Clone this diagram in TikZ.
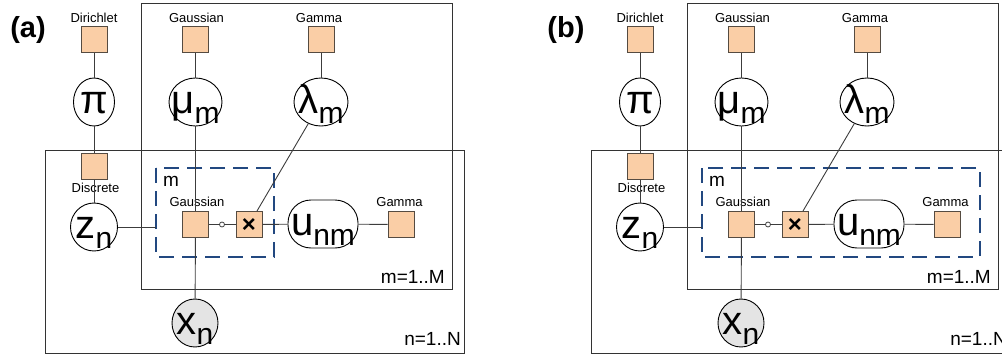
\documentclass[tikz,border=0pt]{standalone}
\usepackage{fontspec}
\setmainfont{Liberation Sans}
\usetikzlibrary{shapes.geometric}

\definecolor{facfill}{RGB}{250,206,166}
\definecolor{facdraw}{RGB}{85,75,65}
\definecolor{linkgray}{RGB}{60,60,60}
\definecolor{obsfill}{RGB}{228,228,228}
\definecolor{dashblue}{RGB}{34,72,128}

\newcommand{\rvname}[2]{\makebox[0pt]{\smash{\raisebox{-11pt}{\fontsize{40}{40}\selectfont #1\raisebox{-10pt}{\fontsize{30}{30}\selectfont #2}}}}}

\tikzset{
  fac/.style={draw=facdraw,fill=facfill,line width=1pt,minimum size=26pt,inner sep=0pt},
  rvar/.style={ellipse,draw,fill=white,line width=0.9pt,minimum width=#1,minimum height=48pt,inner sep=0pt},
  rvar/.default=47pt,
  urect/.style={draw,fill=white,line width=0.9pt,rounded corners=23pt,minimum width=70pt,minimum height=48pt,inner sep=0pt},
  lbl/.style={font=\fontsize{13}{13}\selectfont,inner sep=0pt},
  platelbl/.style={font=\fontsize{19}{19}\selectfont,inner sep=0pt},
  link/.style={draw=linkgray,line width=0.9pt},
  plate/.style={draw=black!80,line width=1pt},
  dashbox/.style={draw=dashblue,line width=2.7pt,dash pattern=on 15pt off 8pt}
}

\begin{document}
\begin{tikzpicture}[x=1pt,y=-1pt]
\useasboundingbox (0,0) rectangle (1002,356);
\foreach \p/\dx/\lx/\bx in {a/0/28/274,b/546/20/434}{
  \begin{scope}[xshift=\dx pt,name prefix=\p-]
    \node[font=\bfseries\fontsize{29}{29}\selectfont] (tag) at (\lx,30) {(\p)};

    \draw[plate] (45,150) rectangle (464,353);
    \draw[plate] (141,3) rectangle (452,289);
    \draw[dashbox] (156,168) rectangle (\bx,257);
    \coordinate (boxw) at (156,227);

    \node[lbl] (dirlbl) at (94,18) {Dirichlet};
    \node[fac] (dir) at (94,39.5) {};
    \node[rvar=41pt] (pi) at (94,102) {\rvname{π}{}};
    \node[fac] (disc) at (94,166) {};
    \node[lbl] (disclbl) at (95.5,187.5) {Discrete};
    \node[rvar] (z) at (94,227) {\rvname{z}{n}};

    \node[lbl] (gmulbl) at (196.5,18) {Gaussian};
    \node[fac] (gmu) at (195.5,39.5) {};
    \node[rvar=53pt] (mu) at (195.5,102) {\rvname{μ}{m}};
    \node[lbl] (glamlbl) at (319,18) {Gamma};
    \node[fac] (glam) at (321,39.5) {};
    \node[rvar=54pt] (lam) at (321,102) {\rvname{λ}{m}};

    \node[platelbl] (mtag) at (171,181) {m};
    \node[lbl] (gausslbl) at (197,202) {Gaussian};
    \node[fac] (gauss) at (195.5,224.5) {};
    \node[circle,draw=linkgray,fill=white,line width=0.8pt,minimum size=5pt,inner sep=0pt] (dot) at (222,224.5) {};
    \node[fac] (times) at (249,224.5) {\makebox[0pt]{\smash{\raisebox{-8pt}{\bfseries\fontsize{24}{24}\selectfont ×}}}};
    \node[urect] (u) at (323,224) {\rvname{u}{nm}};
    \node[lbl] (gulbl) at (399.5,202) {Gamma};
    \node[fac] (gu) at (401,224.5) {};

    \node[rvar=46pt,fill=obsfill] (x) at (195,323) {\rvname{x}{n}};

    \node[platelbl,anchor=east] (mrange) at (445,277) {m=1..M};
    \node[platelbl,anchor=east] (nrange) at (461,339) {n=1..N};

    \draw[link] (dir) -- (pi);
    \draw[link] (pi) -- (disc);
    \draw[link] (disc) -- (z);
    \draw[link] (z) -- (boxw);
    \draw[link] (gmu) -- (mu);
    \draw[link] (mu) -- (gauss);
    \draw[link] (gauss) -- (x);
    \draw[link] (glam) -- (lam);
    \draw[link] (lam) -- ([xshift=8pt]times.north);
    \draw[link] (gauss) -- (dot);
    \draw[link] (dot) -- (times);
    \draw[link] (times) -- (u);
    \draw[link] (u) -- (gu);
  \end{scope}
}
\end{tikzpicture}
\end{document}
